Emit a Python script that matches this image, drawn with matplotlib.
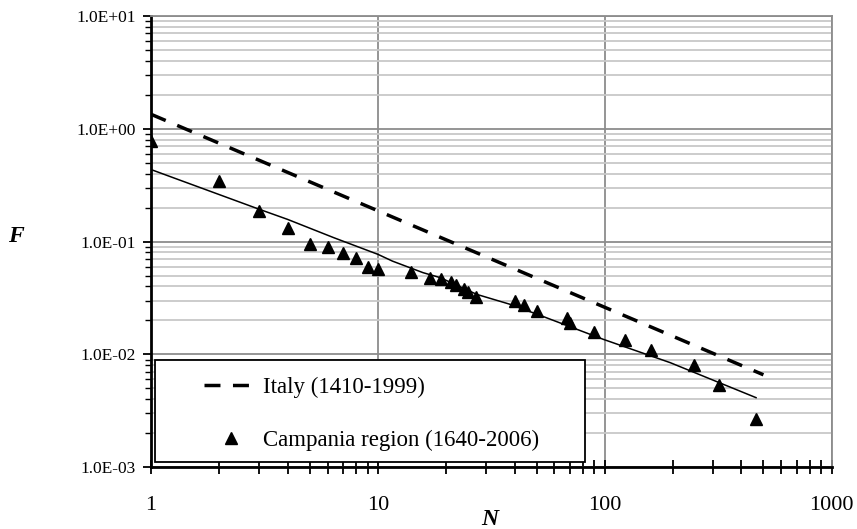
import matplotlib
matplotlib.use("Agg")
import matplotlib.pyplot as plt
from matplotlib.lines import Line2D
from matplotlib.patches import Rectangle
from matplotlib.ticker import FixedLocator, FuncFormatter, NullFormatter

plt.rcParams['font.family'] = ['Liberation Serif', 'DejaVu Serif']

# Campania region catalogue (1640-2006)
campania_N = [1, 2, 3, 4, 5, 6, 7, 8, 9, 10, 14, 17, 19, 21, 22, 24, 25, 27,
              40, 44, 50, 68, 70, 90, 123, 160, 248, 318, 464]
campania_F = [0.776, 0.343, 0.186, 0.131, 0.0944, 0.0894, 0.0786, 0.072,
              0.0594, 0.0575, 0.0537, 0.0479, 0.0463, 0.0438, 0.0409, 0.0377,
              0.0357, 0.0323, 0.0297, 0.0272, 0.0242, 0.0212, 0.0191, 0.0159,
              0.0133, 0.0109, 0.0081, 0.00532, 0.0027]

# solid curve through the Campania points
fit_N = [1, 3, 4, 6.4, 10, 11.6, 15.8, 18.8, 27.3, 38.2, 51.8, 98.5, 194, 464]
fit_F = [0.434, 0.193, 0.157, 0.108, 0.077, 0.067, 0.053, 0.0479, 0.034,
         0.0278, 0.0222, 0.0136, 0.00846, 0.00414]

# Italy (1410-1999) power law, end points
italy_N = [1, 500]
italy_F = [1.34, 0.0066]

x_ticks = [1, 10, 100, 1000]
y_ticks = [1e-3, 1e-2, 1e-1, 1e0, 1e1]
y_labels = ['1.0E-03', '1.0E-02', '1.0E-01', '1.0E+00', '1.0E+01']

fig = plt.figure(figsize=(8.57, 5.29), dpi=100)
ax = fig.add_axes([0.1762, 0.1166, 0.7943, 0.8537])

ax.set_xscale('log')
ax.set_yscale('log')
ax.set_xlim(1, 1000)
ax.set_ylim(1e-3, 10)

ax.plot(italy_N, italy_F, color='black', lw=2.5, dashes=(4.6, 3.6), zorder=3)
ax.plot(fit_N, fit_F, color='black', lw=1.1, zorder=3)
ax.plot(campania_N, campania_F, ls='none', marker='^', ms=9, color='black', zorder=4)

# ticks
ax.xaxis.set_major_locator(FixedLocator(x_ticks))
ax.xaxis.set_major_formatter(FuncFormatter(lambda v, p: '%d' % round(v)))
ax.xaxis.set_minor_locator(FixedLocator([m * 10 ** d for d in range(3) for m in range(2, 10)]))
ax.xaxis.set_minor_formatter(NullFormatter())
ax.yaxis.set_major_locator(FixedLocator(y_ticks))
ax.yaxis.set_major_formatter(FuncFormatter(lambda v, p: y_labels[y_ticks.index(min(y_ticks, key=lambda t: abs(t - v)))]))
ax.yaxis.set_minor_locator(FixedLocator([m * 10 ** d for d in range(-3, 1) for m in range(2, 10)]))
ax.yaxis.set_minor_formatter(NullFormatter())

ax.tick_params(axis='x', which='both', direction='inout', length=10, width=1.3,
               labelsize=16, pad=16)
ax.tick_params(axis='y', which='major', direction='out', length=6, width=1.3,
               labelsize=12.5, pad=5)
ax.tick_params(axis='y', which='minor', direction='out', length=4, width=1.0)

# grid
ax.set_axisbelow(True)
ax.grid(True, which='major', axis='y', color='#8c8c8c', lw=1.3)
ax.grid(True, which='minor', axis='y', color='#c8c8c8', lw=1.3)
ax.grid(True, which='major', axis='x', color='#8c8c8c', lw=1.3)

for s in ['top', 'right']:
    ax.spines[s].set_color('#8c8c8c')
    ax.spines[s].set_linewidth(1.3)
for s in ['left', 'bottom']:
    ax.spines[s].set_color('black')
    ax.spines[s].set_linewidth(2)

ax.set_xlabel('N', fontsize=17, fontweight='bold', fontstyle='italic')
ax.set_ylabel('F', fontsize=17, fontweight='bold', fontstyle='italic', rotation=0,
              ha='center', va='center')
ax.yaxis.label.set_va('center')
ax.xaxis.label.set_va('center')
ax.xaxis.set_label_coords(0.498, -0.116)
ax.yaxis.set_label_coords(-0.198, 0.512)

# legend box
box = Rectangle((0.006, 0.0124), 0.631, 0.225, transform=ax.transAxes,
                facecolor='white', edgecolor='black', lw=1.3, zorder=5)
ax.add_patch(box)
handles = [Line2D([], [], color='black', lw=2.5, dashes=(4.6, 3.6)),
           Line2D([], [], ls='none', marker='^', ms=8, color='black')]
leg = ax.legend(handles, ['Italy (1410-1999)', 'Campania region (1640-2006)'],
                loc='upper left', bbox_to_anchor=(0.078, 0.2), borderaxespad=0,
                borderpad=0, frameon=False, fontsize=16.5, handlelength=2.33,
                handletextpad=0.24, labelspacing=1.38)
leg.set_zorder(6)

fig.savefig('out.png', dpi=100)
